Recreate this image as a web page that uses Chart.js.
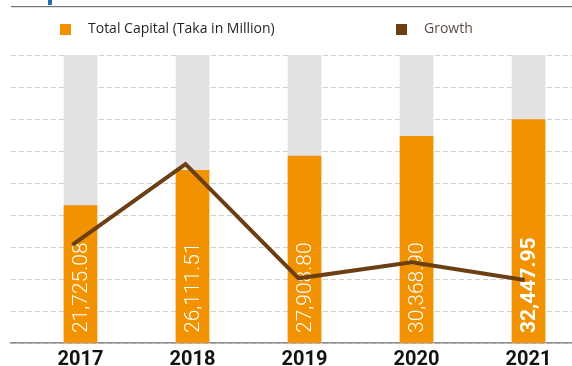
<!DOCTYPE html>
<html>
<head>
<meta charset="utf-8">
<script src="https://cdn.jsdelivr.net/npm/chart.js@4/dist/chart.umd.min.js"></script>
<style>
  html, body { margin: 0; padding: 0; background: #ffffff; }
  #wrap { position: relative; width: 572px; height: 366px; }
</style>
</head>
<body>
<div id="wrap"><canvas id="capitalChart" width="572" height="366"></canvas></div>
<script>
// Yearly figures
const years = ['2017', '2018', '2019', '2020', '2021'];
const totalCapital = [21725.08, 26111.51, 27908.80, 30368.90, 32447.95]; // Taka in million
const growthPct = [10.7, 20.3, 6.7, 8.6, 6.5];                          // year-on-year growth, %
const gridSteps = 9;                                                     // dashed guide intervals

// Value ranges for the hidden axes
const CAP_MIN = 4600, CAP_MAX = 40500;
const GROWTH_MIN = -1, GROWTH_MAX = 33.3;

const ORANGE = '#f29200';
const TRACK = '#e2e2e2';
const BROWN = '#6b3f13';

// Page frame: header rule and accent mark
const framePlugin = {
  id: 'frame',
  beforeDraw(chart) {
    const ctx = chart.ctx;
    ctx.save();
    ctx.fillStyle = '#ffffff';
    ctx.fillRect(0, 0, chart.width, chart.height);
    ctx.fillStyle = '#6f6f6f';
    ctx.fillRect(11, 6, chart.width - 11, 1.2);
    ctx.fillStyle = '#1f6db5';
    ctx.fillRect(48, 0, 4, 5);
    ctx.restore();
  }
};

// Legend row drawn from the dataset labels and colours
const legendRow = {
  id: 'legendRow',
  afterDraw(chart, args, opts) {
    const ctx = chart.ctx;
    ctx.save();
    ctx.font = '14px "Open Sans"';
    ctx.textBaseline = 'middle';
    opts.items.forEach(item => {
      const ds = chart.data.datasets[item.dataset];
      ctx.fillStyle = ds.legendColor;
      ctx.fillRect(item.x, opts.y - 5.5, 11, 11);
      ctx.fillStyle = item.textColor;
      ctx.fillText(ds.label, item.x + 28, opts.y);
    });
    ctx.restore();
  }
};

// Vertical value labels inside the capital bars
const barValues = {
  id: 'barValues',
  afterDatasetDraw(chart, args) {
    if (args.index !== 1) return;
    const ctx = chart.ctx;
    const xs = chart.scales.x;
    const base = chart.scales.y.getPixelForValue(CAP_MIN);
    ctx.save();
    ctx.fillStyle = '#ffffff';
    ctx.textAlign = 'left';
    ctx.textBaseline = 'middle';
    totalCapital.forEach((v, i) => {
      const last = i === totalCapital.length - 1;
      ctx.font = (last ? 'bold ' : '300 ') + '21px Roboto';
      const txt = v.toLocaleString('en-US', { minimumFractionDigits: 2, maximumFractionDigits: 2 });
      ctx.save();
      ctx.translate(xs.getPixelForValue(i) + 1, base - 10);
      ctx.rotate(-Math.PI / 2);
      ctx.fillText(txt, 0, 0);
      ctx.restore();
    });
    ctx.restore();
  }
};

new Chart(document.getElementById('capitalChart'), {
  type: 'bar',
  data: {
    datasets: [
      {
        label: 'track',
        data: years.map((_, i) => ({ x: i, y: CAP_MAX })),
        backgroundColor: TRACK,
        barThickness: 33,
        grouped: false,
        order: 3
      },
      {
        label: 'Total Capital (Taka in Million)',
        legendColor: ORANGE,
        data: totalCapital.map((v, i) => ({ x: i, y: v })),
        backgroundColor: ORANGE,
        barThickness: 33,
        grouped: false,
        order: 2
      },
      {
        type: 'line',
        label: 'Growth',
        legendColor: '#6e3f12',
        data: growthPct.map((v, i) => ({ x: i, y: v })),
        xAxisID: 'xg',
        yAxisID: 'yg',
        borderColor: BROWN,
        borderWidth: 4,
        borderJoinStyle: 'miter',
        pointRadius: 0,
        tension: 0,
        fill: false,
        order: 1
      }
    ]
  },
  options: {
    responsive: false,
    devicePixelRatio: 1,
    animation: false,
    layout: { padding: { top: 55, left: 11, right: 0, bottom: 0 } },
    plugins: {
      legend: { display: false },
      tooltip: { enabled: false },
      legendRow: {
        y: 29.5,
        items: [
          { dataset: 1, x: 60, textColor: '#231f20' },
          { dataset: 2, x: 396, textColor: '#5e4c45' }
        ]
      }
    },
    scales: {
      x: {
        type: 'linear',
        offset: false,
        min: -0.6205,
        max: 4.388,
        afterBuildTicks(scale) { scale.ticks = years.map((_, i) => ({ value: i })); },
        afterFit(scale) { scale.height = 23; },
        grid: { display: false, drawTicks: false, offset: false },
        border: { display: true, color: '#8c8c8c', width: 1.5 },
        ticks: {
          autoSkip: false,
          maxRotation: 0,
          padding: 5,
          color: '#111111',
          font: { family: 'Roboto', size: 20, weight: 'bold' },
          callback: v => years[v]
        }
      },
      xg: {
        type: 'linear',
        display: false,
        offset: false,
        min: -0.5429,
        max: 4.4173
      },
      y: {
        display: false,
        min: CAP_MIN,
        max: CAP_MAX
      },
      yg: {
        display: false,
        min: GROWTH_MIN,
        max: GROWTH_MAX
      },
      yGrid: {
        position: 'left',
        min: 0,
        max: gridSteps,
        ticks: { display: false, stepSize: 1 },
        grid: { color: '#cfcfcf', lineWidth: 1, drawTicks: false },
        border: { display: false, dash: [5, 3] }
      }
    }
  },
  plugins: [framePlugin, legendRow, barValues]
});
</script>
</body>
</html>
